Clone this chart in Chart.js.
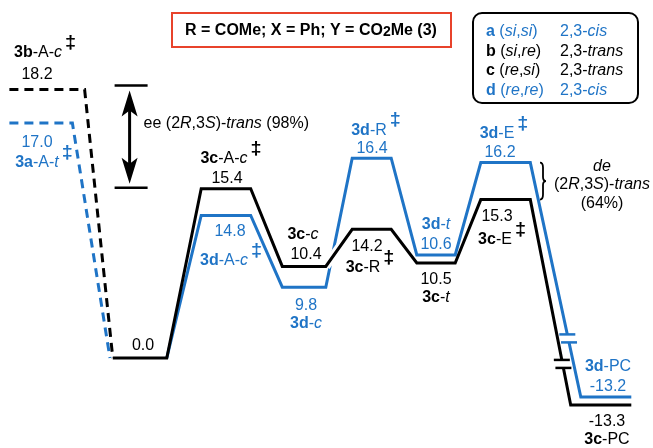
<!DOCTYPE html>
<html><head><meta charset="utf-8">
<script src="https://cdn.jsdelivr.net/npm/chart.js@4.4.1/dist/chart.umd.min.js"></script>
<style>html,body{margin:0;padding:0;background:#fff}canvas{display:block}</style>
</head><body>
<canvas id="c" width="653" height="448"></canvas>
<script>
// ---------------- DATA ----------------
// reaction stages (x axis index)
const stageNames = ['A‡ (3a/3b)', 'start', 'A-c‡', 'c', 'R‡', 't', 'E‡', 'PC'];
const stageIndex = [-1, 0, 1, 2, 3, 4, 5, 6];
// relative energies (kcal/mol)
const energies3c = [0.0, 15.4, 10.4, 14.2, 10.5, 15.3, -13.3]; // stages 0..6 (black)
const energies3d = [14.8, 9.8, 16.4, 10.6, 16.2, -13.2];       // stages 1..6 (blue)
const energy3b = [18.2];  // 3b-A-c‡ (stage -1, black dashed)
const energy3a = [17.0];  // 3a-A-t‡ (stage -1, blue dashed)
// state names (** bold, * italic, ‡ superscript)
const names3c = ['', '**3c**-A-*c*‡', '**3c**-*c*', '**3c**-R‡', '**3c**-*t*', '**3c**-E‡', '**3c**-PC'];
const names3d = ['**3d**-A-*c*‡', '**3d**-*c*', '**3d**-R‡', '**3d**-*t*', '**3d**-E‡', '**3d**-PC'];
const name3b = '**3b**-A-*c*‡';
const name3a = '**3a**-A-*t*‡';
const titleText = 'R = COMe; X = Ph; Y = CO2Me (3)';
const legendRows = [
  ['**a** (*si*,*si*)', '2,3-*cis*', 'blue'],
  ['**b** (*si*,*re*)', '2,3-*trans*', 'black'],
  ['**c** (*re*,*si*)', '2,3-*trans*', 'black'],
  ['**d** (*re*,*re*)', '2,3-*cis*', 'blue']
];
const eeText = 'ee (2*R*,3*S*)-*trans* (98%)';
const deText = ['*de*', '(2*R*,3*S*)-*trans*', '(64%)'];

// ---------------- STYLE ----------------
const BLUE = '#1f74c6', BLACK = '#000000', RED = '#e8432b';
const FONT = '"Liberation Sans", Arial, sans-serif';
const FS = 16;
const HW = 0.3;          // half width of a level (stage units)
const HW_D = 0.4;        // dashed level half width (left)
const HW_DA_R = 0.27;    // blue dashed right half width
const HW_PC_BLUE = 0.2;  // blue PC level starts a bit to the right
// schematic (non-linear, broken) axes: value -> reference pixel
const REF_W = 653, REF_H = 448;
const WARP = {
  x: [[-2, -47], [-1, 47], [0, 141], [1, 227], [2, 306], [3, 372], [4, 436], [5, 500], [6, 601], [7, 702]],
  y: [[-14, 461], [-13, 381], [0, 358], [9.5, 298], [10, 280], [10.5, 263], [10.6, 255], [11, 248], [14, 234], [15.25, 205], [15.5, 178], [16.5, 156], [17, 123], [18, 95], [20, 39]]
};
// label offsets (px) relative to the level: [valueDx, valueDy, nameDx, nameDy]
const off3c = [[2, -12, 0, 0], [0, -10, -3, -30], [0, -12, -3, -32], [-5, 17, -9, 38], [0, 17, 0, 35], [-3, 17, -5, 40], [6, 17, 6, 35]];
const off3d = [[3, 16, -3, 45], [0, 18, 0, 36], [0, -10, -3, -28], [0, -10, 0, -30], [0, -10, -3, -29], [7, -10, 7, -30]];
const off3b = [-10, -15, -9, -37];
const off3a = [-10, 20, -10, 40];

// ---------------- WARP SCALE ----------------
function interp(k, v) {
  let i = 0;
  if (v <= k[0][0]) i = 0;
  else if (v >= k[k.length - 1][0]) i = k.length - 2;
  else { while (i < k.length - 2 && v > k[i + 1][0]) i++; }
  const a = k[i], b = k[i + 1];
  return a[1] + (v - a[0]) / (b[0] - a[0]) * (b[1] - a[1]);
}
function interpInv(k, p) {
  const inv = k.map(([a, b]) => [b, a]);
  if (inv[0][0] > inv[inv.length - 1][0]) inv.reverse();
  return interp(inv, p);
}
class WarpScale extends Chart.LinearScale {
  getPixelForValue(value) {
    if (value === null || value === undefined || isNaN(value)) return NaN;
    const p = interp(WARP[this.axis], value);
    return this.isHorizontal() ? this.left + p / REF_W * this.width : this.top + p / REF_H * this.height;
  }
  getValueForPixel(pixel) {
    const p = this.isHorizontal() ? (pixel - this.left) / this.width * REF_W : (pixel - this.top) / this.height * REF_H;
    return interpInv(WARP[this.axis], p);
  }
}
WarpScale.id = 'warp';
WarpScale.defaults = Chart.LinearScale.defaults;
Chart.register(WarpScale);

// ---------------- PATHS FROM DATA ----------------
function levelPath(startStage, energies, hwLeftLast) {
  const pts = [];
  energies.forEach((e, j) => {
    const s = startStage + j;
    const left = (j === energies.length - 1 && hwLeftLast != null) ? hwLeftLast : HW;
    pts.push({x: s - left, y: e}, {x: s + HW, y: e});
  });
  return pts;
}
const path3c = levelPath(0, energies3c);
const path3d = [{x: 0 + HW, y: energies3c[0]}].concat(levelPath(1, energies3d, HW_PC_BLUE));
const path3b = [{x: -1 - HW_D, y: energy3b[0]}, {x: -1 + HW_D, y: energy3b[0]}, {x: 0 - HW, y: energies3c[0]}];
const path3a = [{x: -1 - HW_D, y: energy3a[0]}, {x: -1 + HW_DA_R, y: energy3a[0]}, {x: 0 - HW - 0.03, y: energies3c[0]}];
// white halo where black crosses blue (c -> R‡)
const halo = [{x: 2 + HW, y: energies3c[2]}, {x: 3 - HW, y: energies3c[3]}];

// ---------------- RICH TEXT ----------------
function parseRich(s) {
  const re = /\*\*(.+?)\*\*|\*(.+?)\*|(‡)|([^*‡]+)/g;
  const out = []; let m;
  while ((m = re.exec(s))) {
    if (m[1]) out.push({t: m[1], b: true});
    else if (m[2]) out.push({t: m[2], i: true});
    else if (m[3]) out.push({t: m[3], sup: true});
    else out.push({t: m[4]});
  }
  return out;
}
function fontOf(seg, size, bold) {
  if (seg.sup) return '19px ' + FONT;
  return (seg.i ? 'italic ' : '') + ((seg.b || bold) ? 'bold ' : '') + size + 'px ' + FONT;
}
function drawRich(ctx, s, x, y, color, align, size, bold) {
  size = size || FS;
  const segs = parseRich(s);
  let w = 0;
  segs.forEach(g => { if (!g.sup) { ctx.font = fontOf(g, size, bold); w += ctx.measureText(g.t).width; } });
  let cx = align === 'left' ? x : x - w / 2;
  ctx.fillStyle = color; ctx.textBaseline = 'middle'; ctx.textAlign = 'left';
  segs.forEach(g => {
    ctx.font = fontOf(g, size, bold);
    if (g.sup) {
      ctx.fillText(g.t, cx + 3, y - 10); ctx.fillText(g.t, cx + 3.5, y - 10);
      cx += ctx.measureText(g.t).width + 3;
    } else { ctx.fillText(g.t, cx, y); cx += ctx.measureText(g.t).width; }
  });
}

// ---------------- ANNOTATION PLUGIN ----------------
const annot = {
  id: 'annot',
  afterDatasetsDraw(chart) {
    const ctx = chart.ctx, xs = chart.scales.x, ys = chart.scales.y;
    const X = v => xs.getPixelForValue(v), Y = v => ys.getPixelForValue(v);
    ctx.save();
    // break marks on the descents to PC
    function brk(sA, eA, sB, eB, t, color) {
      const ax = X(sA), ay = Y(eA), bx = X(sB), by = Y(eB);
      const py = ay + t * (by - ay);
      const xAt = yy => ax + (yy - ay) / (by - ay) * (bx - ax);
      const y1 = py - 4, y2 = py + 4;
      ctx.strokeStyle = '#fff'; ctx.lineWidth = 6; ctx.lineCap = 'butt';
      ctx.beginPath(); ctx.moveTo(xAt(y1), y1); ctx.lineTo(xAt(y2), y2); ctx.stroke();
      ctx.strokeStyle = color; ctx.lineWidth = 2.5;
      [y1, y2].forEach(yy => { ctx.beginPath(); ctx.moveTo(xAt(yy) - 8, yy); ctx.lineTo(xAt(yy) + 8, yy); ctx.stroke(); });
    }
    brk(5 + HW, energies3c[5], 6 - HW, energies3c[6], 0.8, BLACK);
    brk(5 + HW, energies3d[4], 6 - HW_PC_BLUE, energies3d[5], 0.75, BLUE);

    // level labels
    energies3c.forEach((e, j) => {
      const o = off3c[j];
      drawRich(ctx, e.toFixed(1), X(j) + o[0], Y(e) + o[1], BLACK);
      if (names3c[j]) drawRich(ctx, names3c[j], X(j) + o[2], Y(e) + o[3], BLACK);
    });
    energies3d.forEach((e, j) => {
      const o = off3d[j];
      drawRich(ctx, e.toFixed(1), X(j + 1) + o[0], Y(e) + o[1], BLUE);
      drawRich(ctx, names3d[j], X(j + 1) + o[2], Y(e) + o[3], BLUE);
    });
    drawRich(ctx, energy3b[0].toFixed(1), X(-1) + off3b[0], Y(energy3b[0]) + off3b[1], BLACK);
    drawRich(ctx, name3b, X(-1) + off3b[2], Y(energy3b[0]) + off3b[3], BLACK);
    drawRich(ctx, energy3a[0].toFixed(1), X(-1) + off3a[0], Y(energy3a[0]) + off3a[1], BLUE);
    drawRich(ctx, name3a, X(-1) + off3a[2], Y(energy3a[0]) + off3a[3], BLUE);

    // ee double arrow between 3b-A-c‡ and 3c-A-c‡
    const axp = X(-0.1), yT = Y(energy3b[0]) - 4, yB = Y(energies3c[1]) - 1;
    ctx.strokeStyle = BLACK; ctx.lineWidth = 2.5; ctx.lineCap = 'butt';
    [yT, yB].forEach(yy => { ctx.beginPath(); ctx.moveTo(axp - 17, yy); ctx.lineTo(axp + 16, yy); ctx.stroke(); });
    ctx.lineWidth = 3;
    ctx.beginPath(); ctx.moveTo(axp - 2, yT + 20); ctx.lineTo(axp - 2, yB - 20); ctx.stroke();
    ctx.fillStyle = BLACK;
    function head(tipY, dir) {
      const x0 = axp - 2;
      ctx.beginPath(); ctx.moveTo(x0, tipY);
      ctx.lineTo(x0 + 8, tipY + dir * 26);
      ctx.lineTo(x0, tipY + dir * 20);
      ctx.lineTo(x0 - 8, tipY + dir * 26);
      ctx.closePath(); ctx.fill();
    }
    head(yT + 5, 1); head(yB - 4, -1);
    drawRich(ctx, eeText, axp + 12, (yT + yB) / 2 - 13, BLACK, 'left');

    // de brace between 3d-E‡ and 3c-E‡
    const bx = X(5) + 40, bt = Y(energies3d[4]), bb = Y(energies3c[5]), bm = (bt + bb) / 2;
    ctx.lineWidth = 1.8; ctx.strokeStyle = BLACK;
    ctx.beginPath();
    ctx.moveTo(bx, bt);
    ctx.quadraticCurveTo(bx + 3, bt, bx + 3, bt + 5);
    ctx.lineTo(bx + 3, bm - 4);
    ctx.quadraticCurveTo(bx + 3, bm, bx + 6, bm);
    ctx.quadraticCurveTo(bx + 3, bm, bx + 3, bm + 4);
    ctx.lineTo(bx + 3, bb - 5);
    ctx.quadraticCurveTo(bx + 3, bb, bx, bb);
    ctx.stroke();
    deText.forEach((t, k) => drawRich(ctx, t, bx + 62, bm - 15 + k * 18.5, BLACK));

    // title box
    ctx.strokeStyle = RED; ctx.lineWidth = 2;
    ctx.strokeRect(172, 13, 279, 34);
    ctx.fillStyle = BLACK; ctx.font = 'bold ' + FS + 'px ' + FONT; ctx.textBaseline = 'middle';
    const parts = titleText.split('2');
    let w0 = ctx.measureText(parts[0]).width;
    ctx.font = 'bold 14px ' + FONT; const w2 = ctx.measureText('2').width;
    ctx.font = 'bold ' + FS + 'px ' + FONT; const w1 = ctx.measureText(parts[1]).width;
    let tx = 311 - (w0 + w2 + w1) / 2;
    ctx.textAlign = 'left';
    ctx.fillText(parts[0], tx, 31); tx += w0;
    ctx.font = 'bold 14px ' + FONT; ctx.fillText('2', tx, 32); tx += w2;
    ctx.font = 'bold ' + FS + 'px ' + FONT; ctx.fillText(parts[1], tx, 31);

    // legend box
    ctx.strokeStyle = BLACK; ctx.lineWidth = 2;
    ctx.beginPath();
    if (ctx.roundRect) ctx.roundRect(473, 13, 165, 90, 9); else ctx.rect(473, 13, 165, 90);
    ctx.stroke();
    legendRows.forEach((r, k) => {
      const col = r[2] === 'blue' ? BLUE : BLACK;
      drawRich(ctx, r[0], 486, 32 + k * 19.5, col, 'left');
      drawRich(ctx, r[1], 560, 32 + k * 19.5, col, 'left');
    });
    ctx.restore();
  }
};

// ---------------- CHART ----------------
const common = {pointRadius: 0, tension: 0, fill: false, borderJoinStyle: 'miter', borderCapStyle: 'butt', clip: false};
new Chart(document.getElementById('c'), {
  type: 'line',
  data: {
    datasets: [
      Object.assign({label: '3a-A-t‡', data: path3a, borderColor: BLUE, borderWidth: 3, borderDash: [9, 6], order: 5}, common),
      Object.assign({label: '3b-A-c‡', data: path3b, borderColor: BLACK, borderWidth: 3, borderDash: [9, 6], order: 4}, common),
      Object.assign({label: '3d', data: path3d, borderColor: BLUE, borderWidth: 3, order: 3}, common),
      Object.assign({label: 'halo', data: halo, borderColor: '#ffffff', borderWidth: 9, order: 2}, common),
      Object.assign({label: '3c', data: path3c, borderColor: BLACK, borderWidth: 3, order: 1}, common)
    ]
  },
  options: {
    responsive: false,
    animation: false,
    devicePixelRatio: 1,
    layout: {padding: 0},
    scales: {
      x: {type: 'warp', display: false},
      y: {type: 'warp', display: false}
    },
    plugins: {legend: {display: false}, tooltip: {enabled: false}, title: {display: false}}
  },
  plugins: [annot]
});
</script>
</body></html>
